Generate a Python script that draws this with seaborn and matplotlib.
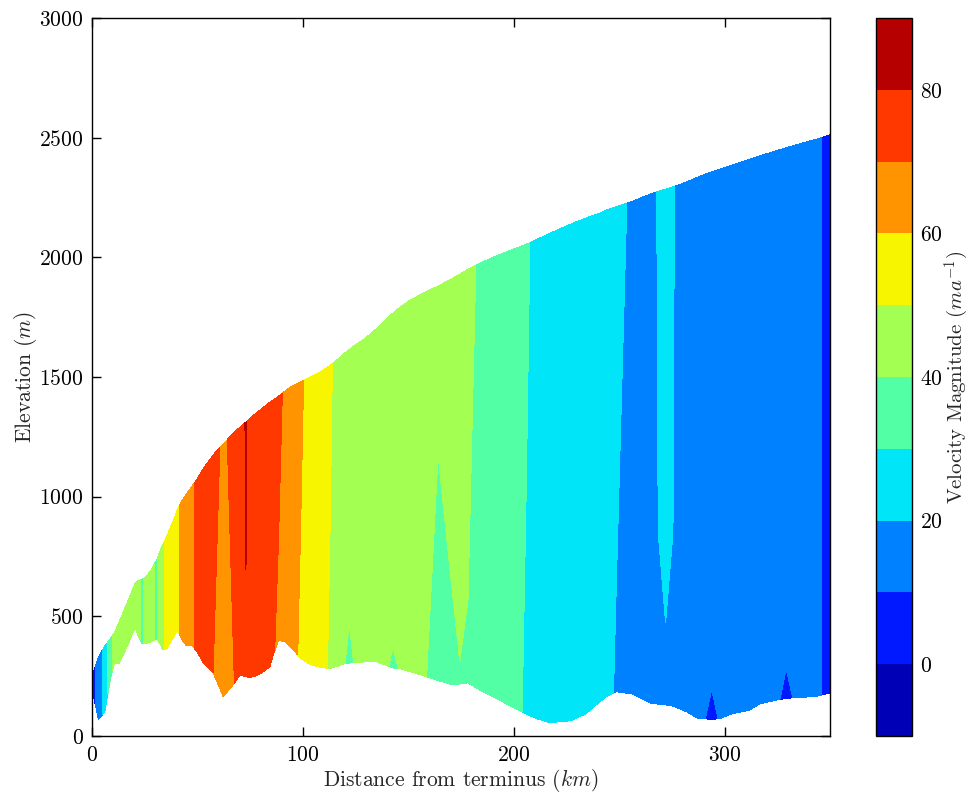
import numpy as np
import matplotlib
matplotlib.use("Agg")
import matplotlib.pyplot as plt
import seaborn as sns

# Flow-line stations along the glacier (km from terminus)
distance_km = [0, 3, 6, 9, 10.5, 13, 17, 20.5, 21.8, 23.8, 25.5, 28, 30.6, 32.3,
               33.4, 35.4, 39.2, 40.4, 42.8, 44.7, 47.5, 49.9, 52.6, 57.5, 62.2,
               67.5, 70.1, 72, 73, 74, 77, 80.4, 84.4, 86, 88.5, 92, 95.4, 99,
               103, 109, 113, 116, 119, 122, 125, 130, 135, 139.5, 142.8, 146.5,
               151, 158, 164.1, 169.5, 174.4, 178.3, 183.9, 190, 200, 206, 211,
               217, 227.3, 234.4, 240.8, 244.5, 248.7, 256.6, 262, 265, 268.5,
               272, 275.5, 279, 281.8, 287.3, 290, 293.9, 297.6, 303.9, 311.8,
               316.6, 325.5, 329.2, 333, 338, 344, 350]

# Ice surface elevation (m)
surface_m = [250, 330, 375, 410, 430, 480, 565, 640, 648, 655, 665, 694, 735, 775,
             795, 835, 915, 945, 985, 1010, 1045, 1075, 1115, 1175, 1220,
             1270, 1290, 1305, 1312, 1320, 1343, 1367, 1395, 1405, 1420, 1445, 1465, 1480,
             1497, 1525, 1550, 1570, 1595, 1615, 1635, 1665, 1703, 1742, 1768, 1795,
             1822, 1855, 1880, 1905, 1930, 1950, 1975, 2000, 2035, 2055, 2075,
             2100, 2140, 2165, 2185, 2200, 2212, 2235, 2255, 2265, 2275,
             2285, 2295, 2305, 2315, 2335, 2345, 2357, 2368, 2387, 2410,
             2424, 2448, 2458, 2468, 2480, 2495, 2512]

# Bed elevation (m)
bed_m = [195, 70, 100, 250, 300, 305, 380, 455, 420, 385, 385, 394, 405, 385,
         360, 365, 420, 445, 400, 378, 378, 350, 308, 263, 164,
         220, 255, 250, 248, 245, 248, 263, 290, 340, 400, 392, 359, 325,
         300, 285, 283, 290, 300, 305, 306, 310, 310, 295, 284, 280,
         268, 250, 232, 217, 217, 222, 192, 165, 118, 92, 72,
         56, 64, 94, 143, 168, 185, 175, 150, 137, 133,
         130, 125, 112, 102, 74, 72, 70, 72, 94, 108,
         134, 152, 157, 160, 162, 167, 180]

# Velocity magnitude at the bed and at the surface (m/a)
speed_bed = [4, 14, 23, 37, 45, 45, 45, 45, 44, 36, 45, 45, 37, 45,
             45, 55, 55, 55, 65, 65, 65, 75, 75, 69.9, 62,
             70, 76, 77, 78, 77, 76, 76, 75, 71, 67, 65, 63, 58,
             55, 54, 48, 46, 40.5, 39, 40.5, 45, 45, 40.3, 39.5, 40.3,
             44, 40.5, 36, 37.5, 39.6, 39, 34, 35, 34, 28, 26,
             25, 25, 25, 25, 23, 18.5, 15, 15, 16, 19.5,
             19.3, 19.5, 16, 15, 15, 10.1, 9.6, 10.1, 15, 15,
             15, 10.1, 9.6, 10.1, 15, 14, 2]
speed_surface = [4, 14, 23, 37, 45, 45, 45, 45, 44, 36, 45, 45, 37, 45,
                 45, 55, 55, 55, 65, 65, 65, 75, 75, 74, 68,
                 73.5, 76, 77, 82.8, 77, 76, 76, 75, 75, 74, 66, 65, 62,
                 56, 55, 52, 46, 45, 47, 45, 45, 45, 45, 48, 45,
                 45, 45, 43, 46, 47, 44, 38, 35, 35, 32, 26,
                 25, 25, 25, 25, 25, 25, 17, 15, 16, 21,
                 23.7, 21, 16, 15, 15, 15, 17, 15, 15, 15,
                 15, 15, 17, 15, 15, 14, 2]

speed_levels = [-10, 0, 10, 20, 30, 40, 50, 60, 70, 80, 90]
speed_ticks = [0, 20, 40, 60, 80]
distance_ticks = [0, 100, 200, 300]
elevation_ticks = [0, 500, 1000, 1500, 2000, 2500, 3000]

sns.set_style("ticks")
plt.rcParams.update({
    "font.family": "cmr10",
    "mathtext.fontset": "cm",
    "axes.unicode_minus": False,
    "axes.formatter.use_mathtext": True,
    "font.size": 15.5,
    "axes.edgecolor": "black",
    "axes.linewidth": 1.0,
    "xtick.color": "black",
    "ytick.color": "black",
    "xtick.direction": "in",
    "ytick.direction": "in",
    "xtick.top": True,
    "ytick.right": True,
    "xtick.major.size": 6.5,
    "ytick.major.size": 6.5,
    "xtick.major.width": 1.0,
    "ytick.major.width": 1.0,
    "xtick.major.pad": 7,
    "ytick.major.pad": 6,
})

fig = plt.figure(figsize=(9.77, 7.92), dpi=100)
ax = fig.add_axes([0.0942, 0.0707, 0.7554, 0.9066])
cax = fig.add_axes([0.8966, 0.0707, 0.0368, 0.9066])

# Two-layer mesh: bed row and surface row, velocity interpolated between them
X = np.vstack([distance_km, distance_km])
Z = np.vstack([bed_m, surface_m])
V = np.vstack([speed_bed, speed_surface])

cs = ax.contourf(X, Z, V, levels=speed_levels, cmap="jet")

ax.set_xlim(0, 350)
ax.set_ylim(0, 3000)
ax.set_xticks(distance_ticks)
ax.set_yticks(elevation_ticks)
ax.tick_params(labelsize=15.5)
ax.set_xlabel("Distance from terminus ($km$)", fontsize=15.5, labelpad=1)
ax.set_ylabel("Elevation ($m$)", fontsize=15.5, labelpad=0)
for side in ["top", "right", "bottom", "left"]:
    ax.spines[side].set_visible(True)
    ax.spines[side].set_color("black")

cb = fig.colorbar(cs, cax=cax, ticks=speed_ticks)
cb.outline.set_linewidth(1.0)
cb.outline.set_edgecolor("black")
cax.tick_params(direction="in", length=6.5, width=1.0, right=True, left=False,
                labelsize=15.5, pad=6)
cb.set_label("Velocity Magnitude ($ma^{-1}$)", fontsize=15, labelpad=0)

fig.savefig("out.png", dpi=100)
